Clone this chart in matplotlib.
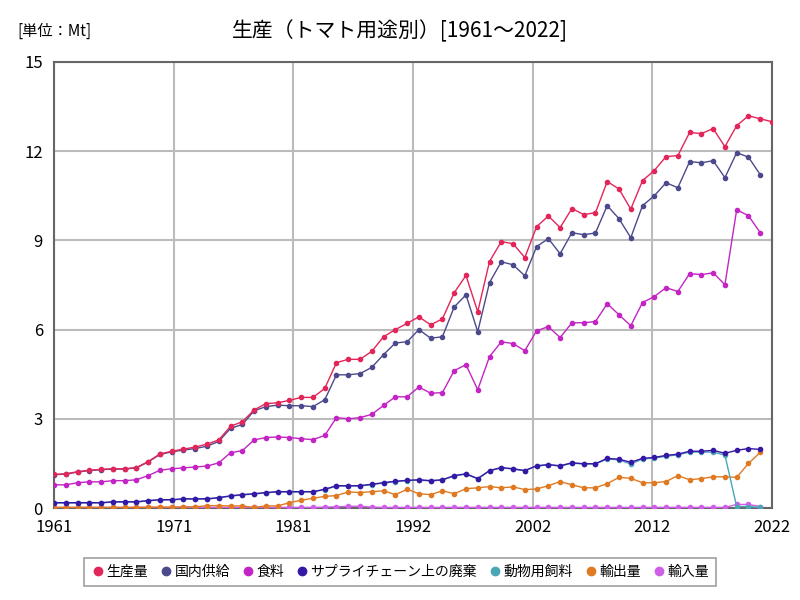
import matplotlib.pyplot as plt
import numpy as np

plt.rcParams['font.family'] = ['Noto Sans CJK JP', 'DejaVu Sans']

years = np.arange(1961, 2023)
nan = np.nan

# 生産量
production = [1.13, 1.15, 1.22, 1.27, 1.30, 1.32, 1.32, 1.36, 1.56, 1.82,
              1.91, 1.98, 2.05, 2.15, 2.29, 2.75, 2.90, 3.30, 3.51, 3.54,
              3.62, 3.72, 3.72, 4.02, 4.89, 5.00, 5.00, 5.27, 5.76, 6.00,
              6.21, 6.43, 6.16, 6.36, 7.24, 7.82, 6.60, 8.29, 8.96, 8.89,
              8.42, 9.46, 9.82, 9.43, 10.07, 9.87, 9.93, 10.98, 10.73, 10.05,
              11.01, 11.35, 11.82, 11.85, 12.63, 12.59, 12.76, 12.15, 12.86, 13.19,
              13.09, 12.99]
# 国内供給
supply = [1.12, 1.14, 1.21, 1.26, 1.29, 1.31, 1.31, 1.35, 1.55, 1.80,
          1.89, 1.95, 2.00, 2.08, 2.24, 2.68, 2.81, 3.27, 3.41, 3.46,
          3.44, 3.44, 3.41, 3.64, 4.48, 4.48, 4.52, 4.73, 5.16, 5.55,
          5.59, 6.00, 5.71, 5.76, 6.76, 7.17, 5.93, 7.58, 8.28, 8.18,
          7.81, 8.79, 9.06, 8.55, 9.26, 9.19, 9.25, 10.17, 9.73, 9.09,
          10.17, 10.50, 10.94, 10.77, 11.65, 11.61, 11.68, 11.11, 11.95, 11.80,
          11.21, nan]
# 食料
food = [0.78, 0.78, 0.85, 0.88, 0.88, 0.92, 0.92, 0.95, 1.09, 1.27,
        1.32, 1.35, 1.38, 1.41, 1.52, 1.86, 1.93, 2.29, 2.37, 2.39,
        2.37, 2.33, 2.30, 2.44, 3.04, 3.00, 3.04, 3.15, 3.45, 3.74,
        3.74, 4.07, 3.86, 3.88, 4.62, 4.82, 3.98, 5.09, 5.59, 5.53,
        5.29, 5.96, 6.10, 5.73, 6.23, 6.23, 6.27, 6.87, 6.50, 6.13,
        6.91, 7.11, 7.41, 7.28, 7.88, 7.85, 7.91, 7.51, 10.03, 9.83,
        9.26, nan]
# サプライチェーン上の廃棄
waste = [0.18, 0.18, 0.18, 0.18, 0.18, 0.21, 0.21, 0.21, 0.25, 0.28,
         0.28, 0.31, 0.31, 0.31, 0.35, 0.41, 0.45, 0.48, 0.52, 0.55,
         0.55, 0.55, 0.55, 0.63, 0.75, 0.75, 0.75, 0.80, 0.85, 0.90,
         0.93, 0.95, 0.92, 0.95, 1.09, 1.15, 0.99, 1.26, 1.36, 1.32,
         1.26, 1.42, 1.46, 1.42, 1.52, 1.49, 1.49, 1.67, 1.64, 1.54,
         1.67, 1.70, 1.77, 1.81, 1.91, 1.91, 1.94, 1.84, 1.94, 2.00,
         1.97, nan]
# 動物用飼料
feed = [0.17, 0.17, 0.17, 0.17, 0.17, 0.20, 0.20, 0.20, 0.24, 0.27,
        0.27, 0.30, 0.30, 0.30, 0.34, 0.40, 0.44, 0.47, 0.51, 0.54,
        0.54, 0.54, 0.54, 0.62, 0.74, 0.74, 0.74, 0.79, 0.84, 0.89,
        0.92, 0.94, 0.91, 0.94, 1.08, 1.14, 0.98, 1.25, 1.35, 1.31,
        1.25, 1.41, 1.45, 1.41, 1.51, 1.48, 1.48, 1.65, 1.62, 1.48,
        1.65, 1.68, 1.74, 1.79, 1.88, 1.88, 1.88, 1.78, 0.05, 0.05,
        0.02, nan]
# 輸出量
export = [0.02, 0.02, 0.02, 0.02, 0.02, 0.02, 0.02, 0.02, 0.03, 0.03,
          0.03, 0.04, 0.04, 0.08, 0.08, 0.07, 0.07, 0.02, 0.07, 0.07,
          0.18, 0.26, 0.33, 0.39, 0.42, 0.54, 0.52, 0.55, 0.58, 0.45,
          0.63, 0.48, 0.45, 0.58, 0.48, 0.65, 0.68, 0.72, 0.68, 0.71,
          0.62, 0.64, 0.75, 0.89, 0.78, 0.68, 0.68, 0.82, 1.03, 1.00,
          0.85, 0.85, 0.89, 1.09, 0.95, 0.99, 1.05, 1.05, 1.03, 1.50,
          1.87, nan]
# 輸入量
imports = [0.02, 0.02, 0.02, 0.02, 0.02, 0.02, 0.02, 0.02, 0.02, 0.02,
           0.02, 0.02, 0.02, 0.02, 0.02, 0.02, 0.02, 0.02, 0.02, 0.02,
           0.02, 0.02, 0.02, 0.03, 0.04, 0.06, 0.06, 0.03, 0.02, 0.02,
           0.02, 0.02, 0.02, 0.02, 0.02, 0.02, 0.02, 0.02, 0.02, 0.02,
           0.02, 0.02, 0.02, 0.02, 0.02, 0.02, 0.02, 0.02, 0.02, 0.02,
           0.02, 0.02, 0.02, 0.02, 0.02, 0.02, 0.02, 0.02, 0.12, 0.12,
           0.05, nan]

labels = ['生産量', '国内供給', '食料', 'サプライチェーン上の廃棄', '動物用飼料', '輸出量', '輸入量']
colors = ['#e3265a', '#4c4a8c', '#c225c4', '#3617a6', '#4aa6b5', '#e07a22', '#cf5fe8']
series = [production, supply, food, waste, feed, export, imports]

fig = plt.figure(figsize=(8, 6), dpi=100)
ax = fig.add_axes([0.0675, 0.1533, 0.8975, 0.7434])

# 後ろの系列から描いて生産量を一番上にする
n = len(series)
for i in range(n):
    ax.plot(years, series[i], color=colors[i], lw=1.0, marker='o', ms=3,
            label=labels[i], zorder=10 + n - i)

ax.set_xlim(1961, 2022)
ax.set_ylim(0, 15)
xt = np.linspace(1961, 2022, 7)
ax.set_xticks(xt)
ax.set_xticklabels([str(int(np.floor(v + 0.5))) for v in xt])
ax.set_yticks([0, 3, 6, 9, 12, 15])
ax.tick_params(length=0, labelsize=12, pad=8)
ax.grid(color='#bbbbbb', lw=1.5)
for s in ax.spines.values():
    s.set_color('#666666')
    s.set_linewidth(1.5)

fig.text(0.5, 0.948, '生産（トマト用途別）[1961～2022]', ha='center', va='center', fontsize=15)
fig.text(0.022, 0.948, '[単位：Mt]', ha='left', va='center', fontsize=11)

handles = [plt.Line2D([], [], ls='none', marker='o', ms=6, color=c) for c in colors]
leg = fig.legend(handles, labels, loc='center', bbox_to_anchor=(0.5, 0.047), ncol=7,
                 fontsize=10, frameon=True, fancybox=False, edgecolor='#888888',
                 handletextpad=0.1, columnspacing=0.8, borderpad=0.5, handlelength=1.0)
leg.get_frame().set_linewidth(1.2)

fig.savefig('out.png', dpi=100)
